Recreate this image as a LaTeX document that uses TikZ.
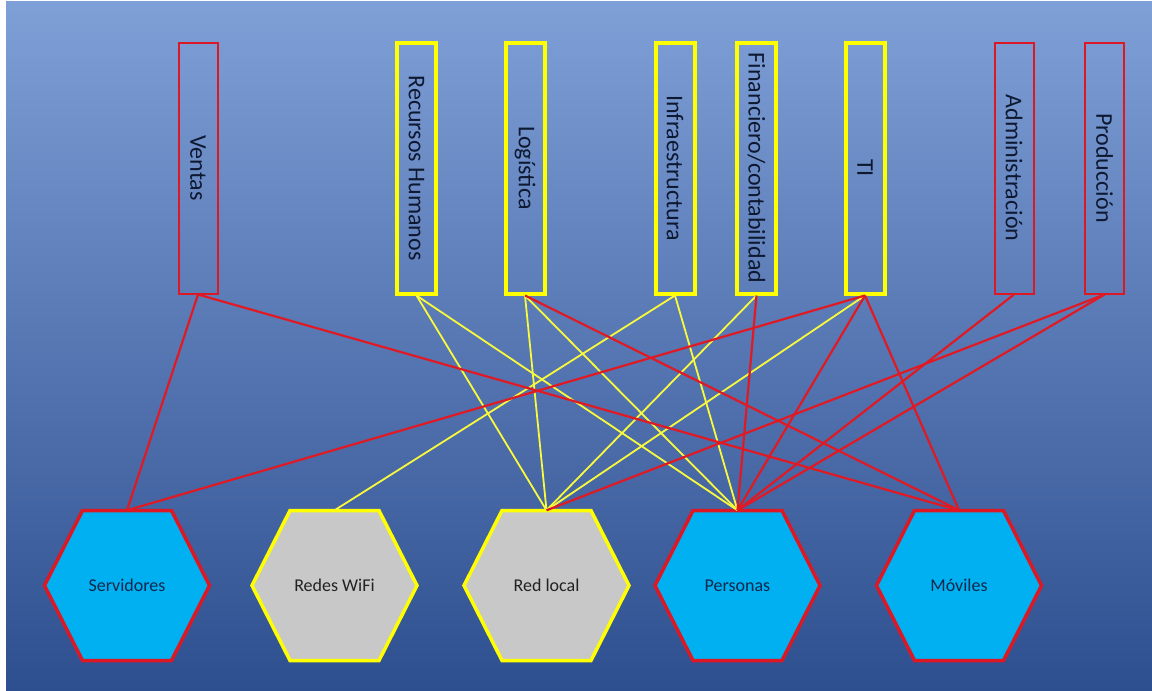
\documentclass[tikz,border=0pt]{standalone}
\usepackage{fontspec}
\setmainfont{Carlito}
\usetikzlibrary{calc}

\definecolor{bgtop}{RGB}{127,159,215}
\definecolor{bgmid}{RGB}{76,114,194}
\definecolor{bgbot}{RGB}{46,79,143}
\definecolor{linkred}{RGB}{224,26,36}
\definecolor{linkyel}{RGB}{250,250,60}
\definecolor{boxred}{RGB}{220,24,36}
\definecolor{boxyel}{RGB}{255,255,0}
\definecolor{hexblue}{RGB}{0,176,240}
\definecolor{hexgray}{RGB}{200,200,200}
\definecolor{labeldark}{RGB}{14,24,48}
\definecolor{labelnavy}{RGB}{16,40,78}
\definecolor{labelgray}{RGB}{34,34,34}

% flat-topped hexagon around a centre coordinate: #1 centre, #2 border, #3 fill
\newcommand\hexoutline[3]{%
  \filldraw[line width=3.5pt, line join=miter, draw=#2, fill=#3]
    ($(#1)+(-44.5,-75)$) -- ($(#1)+(44.5,-75)$) -- ($(#1)+(82.5,0)$) --
    ($(#1)+(44.5,75)$) -- ($(#1)+(-44.5,75)$) -- ($(#1)+(-82.5,0)$) -- cycle;}

\tikzset{
  dept/.style={draw, rectangle, minimum width=39pt, minimum height=251pt,
    inner sep=0pt, font=\fontsize{24}{28}\selectfont, text=labeldark},
  deptred/.style={dept, draw=boxred, line width=2pt},
  deptyel/.style={dept, draw=boxyel, line width=4pt},
  hexlabel/.style={inner sep=0pt, minimum height=150pt, minimum width=120pt,
    font=\fontsize{18}{22}\selectfont},
  redlink/.style={draw=linkred, line width=2.2pt},
  yellink/.style={draw=linkyel, line width=1.8pt},
}

\begin{document}
\begin{tikzpicture}[x=1pt, y=-1pt]
\useasboundingbox (0,0) rectangle (1152,691);

% backdrop
\fill[white] (0,0) rectangle (1152,691);
\shade[top color=bgtop, middle color=bgmid, bottom color=bgbot]
  (6,1) rectangle (1152,691);

% departments
\node[deptred] (ventas) at (198,168)   {\rotatebox{-90}{Ventas}};
\node[deptyel] (rh)     at (416.5,168) {\rotatebox{-90}{Recursos Humanos}};
\node[deptyel] (logis)  at (525,168)   {\rotatebox{-90}{Logística}};
\node[deptyel] (infra)  at (675,168)   {\rotatebox{-90}{Infraestructura}};
\node[deptyel] (fin)    at (756.5,168) {\rotatebox{-90}{Financiero/contabilidad}};
\node[deptyel] (ti)     at (865,168)   {\rotatebox{-90}{TI}};
\node[deptred] (admin)  at (1014,168)  {\rotatebox{-90}{Administración}};
\node[deptred] (prod)   at (1104.5,168){\rotatebox{-90}{Producción}};

% resources
\coordinate (c1) at (127,585.5);
\coordinate (c2) at (334.5,585.5);
\coordinate (c3) at (546.5,585.5);
\coordinate (c4) at (737.5,585.5);
\coordinate (c5) at (959,585.5);
\hexoutline{c1}{boxred}{hexblue}
\hexoutline{c2}{boxyel}{hexgray}
\hexoutline{c3}{boxyel}{hexgray}
\hexoutline{c4}{boxred}{hexblue}
\hexoutline{c5}{boxred}{hexblue}
\node[hexlabel, text=labelnavy] (serv) at (c1) {Servidores};
\node[hexlabel, text=labelgray] (wifi) at (c2) {Redes WiFi};
\node[hexlabel, text=labelgray] (redl) at (c3) {Red local};
\node[hexlabel, text=labelnavy] (pers) at (c4) {Personas};
\node[hexlabel, text=labelnavy] (mov)  at (c5) {Móviles};

% yellow links
\draw[yellink] (rh.south) -- (redl.north);
\draw[yellink] (rh.south) -- (pers.north);
\draw[yellink] (logis.south) -- (redl.north);
\draw[yellink] (logis.south) -- (pers.north);
\draw[yellink] (infra.south) -- (wifi.north);
\draw[yellink] (infra.south) -- (pers.north);
\draw[yellink] (fin.south) -- (redl.north);
\draw[yellink] (ti.south) -- (redl.north);

% red links
\draw[redlink] (ventas.south) -- (serv.north);
\draw[redlink] (ventas.south) -- (mov.north);
\draw[redlink] (logis.south) -- (mov.north);
\draw[redlink] (fin.south) -- (pers.north);
\draw[redlink] (ti.south) -- (serv.north);
\draw[redlink] (ti.south) -- (pers.north);
\draw[redlink] (ti.south) -- (mov.north);
\draw[redlink] (admin.south) -- (pers.north);
\draw[redlink] (prod.south) -- (pers.north);
\draw[redlink] (prod.south) -- (redl.north);
\end{tikzpicture}
\end{document}
